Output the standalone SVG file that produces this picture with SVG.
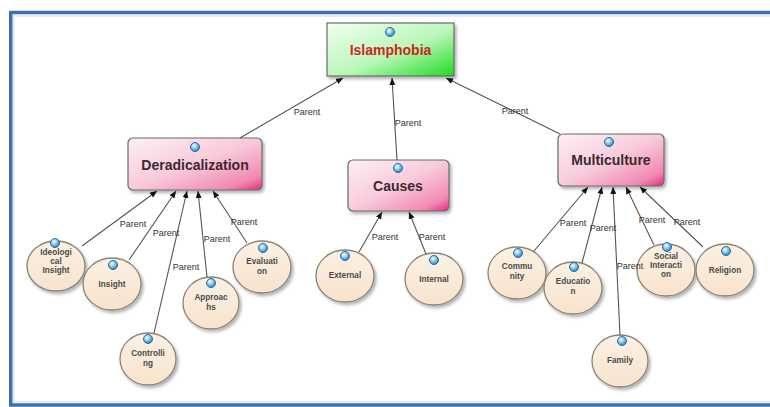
<svg xmlns="http://www.w3.org/2000/svg" width="770" height="407" viewBox="0 0 770 407">
<defs>
<linearGradient id="gPink" x1="0" y1="0" x2="1" y2="1">
<stop offset="0" stop-color="#fdf0f5"/>
<stop offset="0.5" stop-color="#f8cadb"/>
<stop offset="0.85" stop-color="#f18ab3"/>
<stop offset="1" stop-color="#e42a80"/>
</linearGradient>
<linearGradient id="gGreen" x1="0" y1="0" x2="1" y2="1">
<stop offset="0" stop-color="#f2fff2"/>
<stop offset="0.55" stop-color="#b9f7b9"/>
<stop offset="1" stop-color="#1fdc1f"/>
</linearGradient>
<linearGradient id="gCream" x1="0" y1="0" x2="0" y2="1">
<stop offset="0" stop-color="#fcf1e4"/>
<stop offset="1" stop-color="#f8e3cc"/>
</linearGradient>
<radialGradient id="gBall" cx="0.4" cy="0.35" r="0.65">
<stop offset="0" stop-color="#ffffff"/>
<stop offset="0.45" stop-color="#8fd0f4"/>
<stop offset="1" stop-color="#2a86c8"/>
</radialGradient>
<filter id="shadow" x="-20%" y="-20%" width="140%" height="140%">
<feDropShadow dx="2" dy="2.5" stdDeviation="1.6" flood-color="#000" flood-opacity="0.3"/>
</filter>
<marker id="arrow" markerUnits="userSpaceOnUse" markerWidth="8" markerHeight="7" refX="7" refY="3" orient="auto">
<path d="M0,0 L7,3 L0,6 z" fill="#111"/>
</marker>
</defs>
<style>
.box { stroke: #6a6a6a; stroke-width: 1.2; filter: url(#shadow); }
.pink { fill: url(#gPink); }
.ell { fill: url(#gCream); stroke: #8a8276; stroke-width: 1.3; filter: url(#shadow); }
.ball { fill: url(#gBall); stroke: #1f5f96; stroke-width: 0.9; }
.conn { stroke: #555; stroke-width: 1.1; fill: none; marker-end: url(#arrow); }
.lbl { font-family: "Liberation Sans", Arial, sans-serif; font-size: 9px; fill: #333; text-anchor: middle; }
.title { font-family: "Liberation Sans", Arial, sans-serif; font-size: 14px; font-weight: bold; fill: #3a2a32; text-anchor: middle; }
.etxt { font-family: "Liberation Sans", Arial, sans-serif; font-size: 8.2px; font-weight: bold; fill: #4a4a4a; text-anchor: middle; }
</style>
<rect x="0" y="0" width="770" height="407" fill="#ffffff"/>
<g id="frame">
<rect x="14" y="16" width="800" height="386" fill="none" stroke="#e4edf6" stroke-width="2"/>
<rect x="10.75" y="12.5" width="800" height="392.5" fill="none" stroke="#3d6fae" stroke-width="3.5"/>
</g>
<g id="islamphobia">
<rect class="box" x="327" y="23" width="127" height="53" fill="url(#gGreen)"/>
<circle class="ball" cx="390" cy="32" r="4.5"/>
<text x="390.5" y="55" font-family="Liberation Sans, Arial, sans-serif" font-size="14" font-weight="bold" fill="#c8281e" text-anchor="middle">Islamphobia</text>
</g>
<g id="deradicalization">
<rect class="box pink" x="128" y="138" width="134" height="52" rx="5"/>
<circle class="ball" cx="195" cy="147" r="4.5"/>
<text class="title" x="195" y="170">Deradicalization</text>
</g>
<g id="causes">
<rect class="box pink" x="348" y="160" width="101" height="51" rx="5"/>
<circle class="ball" cx="398" cy="168" r="4.5"/>
<text class="title" x="398" y="191">Causes</text>
</g>
<g id="multiculture">
<rect class="box pink" x="558" y="134" width="106" height="52" rx="5"/>
<circle class="ball" cx="609" cy="142" r="4.5"/>
<text class="title" x="611" y="165">Multiculture</text>
</g>
<g id="ideological-insight">
<ellipse class="ell" cx="56" cy="266" rx="29" ry="25"/>
<circle class="ball" cx="55" cy="243" r="4.5"/>
<text class="etxt" x="56" y="255">Ideologi</text>
<text class="etxt" x="56" y="264">cal</text>
<text class="etxt" x="56" y="273">Insight</text>
</g>
<g id="insight">
<ellipse class="ell" cx="112" cy="284" rx="29" ry="26"/>
<circle class="ball" cx="113" cy="265" r="4.5"/>
<text class="etxt" x="112" y="287">Insight</text>
</g>
<g id="controlling">
<ellipse class="ell" cx="148" cy="359" rx="28" ry="26"/>
<circle class="ball" cx="148" cy="339" r="4.5"/>
<text class="etxt" x="148" y="356">Controlli</text>
<text class="etxt" x="148" y="366">ng</text>
</g>
<g id="approachs">
<ellipse class="ell" cx="211" cy="303" rx="28" ry="26"/>
<circle class="ball" cx="211" cy="283" r="4.5"/>
<text class="etxt" x="211" y="300">Approac</text>
<text class="etxt" x="211" y="310">hs</text>
</g>
<g id="evaluation">
<ellipse class="ell" cx="262" cy="267" rx="29" ry="26"/>
<circle class="ball" cx="263" cy="248" r="4.5"/>
<text class="etxt" x="262" y="264">Evaluati</text>
<text class="etxt" x="262" y="274">on</text>
</g>
<g id="external">
<ellipse class="ell" cx="345" cy="276" rx="29" ry="26"/>
<circle class="ball" cx="345" cy="256" r="4.5"/>
<text class="etxt" x="345" y="278">External</text>
</g>
<g id="internal">
<ellipse class="ell" cx="434" cy="279" rx="29" ry="26"/>
<circle class="ball" cx="434" cy="260" r="4.5"/>
<text class="etxt" x="434" y="282">Internal</text>
</g>
<g id="community">
<ellipse class="ell" cx="517" cy="273" rx="29" ry="26"/>
<circle class="ball" cx="518" cy="253" r="4.5"/>
<text class="etxt" x="517" y="269">Commu</text>
<text class="etxt" x="517" y="279">nity</text>
</g>
<g id="education">
<ellipse class="ell" cx="573" cy="288" rx="29" ry="26"/>
<circle class="ball" cx="574" cy="267" r="4.5"/>
<text class="etxt" x="573" y="284">Educatio</text>
<text class="etxt" x="573" y="294">n</text>
</g>
<g id="family">
<ellipse class="ell" cx="620" cy="361" rx="28" ry="26"/>
<circle class="ball" cx="622" cy="341" r="4.5"/>
<text class="etxt" x="620" y="363">Family</text>
</g>
<g id="social-interaction">
<ellipse class="ell" cx="666" cy="270" rx="29" ry="26"/>
<circle class="ball" cx="667" cy="247" r="4.5"/>
<text class="etxt" x="666" y="259">Social</text>
<text class="etxt" x="666" y="268">Interacti</text>
<text class="etxt" x="666" y="277">on</text>
</g>
<g id="religion">
<ellipse class="ell" cx="725" cy="270" rx="29" ry="26"/>
<circle class="ball" cx="726" cy="251" r="4.5"/>
<text class="etxt" x="725" y="273">Religion</text>
</g>
<g id="connectors">
<line class="conn" x1="240" y1="138" x2="343" y2="78"/>
<line class="conn" x1="397" y1="160" x2="392" y2="78"/>
<line class="conn" x1="560" y1="134" x2="446" y2="78"/>
<line class="conn" x1="82" y1="246" x2="157" y2="191"/>
<line class="conn" x1="129" y1="260" x2="176" y2="191"/>
<line class="conn" x1="154" y1="333" x2="187" y2="191"/>
<line class="conn" x1="207" y1="277" x2="198" y2="191"/>
<line class="conn" x1="247" y1="243" x2="213" y2="191"/>
<line class="conn" x1="359" y1="252" x2="382" y2="212"/>
<line class="conn" x1="426" y1="254" x2="409" y2="212"/>
<line class="conn" x1="534" y1="251" x2="588" y2="187"/>
<line class="conn" x1="582" y1="263" x2="602" y2="187"/>
<line class="conn" x1="620" y1="335" x2="613" y2="187"/>
<line class="conn" x1="654" y1="245" x2="626" y2="187"/>
<line class="conn" x1="703" y1="247" x2="640" y2="187"/>
<text class="lbl" x="307" y="115">Parent</text>
<text class="lbl" x="408" y="126">Parent</text>
<text class="lbl" x="515" y="114">Parent</text>
<text class="lbl" x="133" y="227">Parent</text>
<text class="lbl" x="166" y="236">Parent</text>
<text class="lbl" x="186" y="270">Parent</text>
<text class="lbl" x="217" y="242">Parent</text>
<text class="lbl" x="244" y="225">Parent</text>
<text class="lbl" x="385" y="240">Parent</text>
<text class="lbl" x="432" y="240">Parent</text>
<text class="lbl" x="573" y="226">Parent</text>
<text class="lbl" x="603" y="231">Parent</text>
<text class="lbl" x="630" y="269">Parent</text>
<text class="lbl" x="652" y="223">Parent</text>
<text class="lbl" x="687" y="225">Parent</text>
</g>
</svg>
